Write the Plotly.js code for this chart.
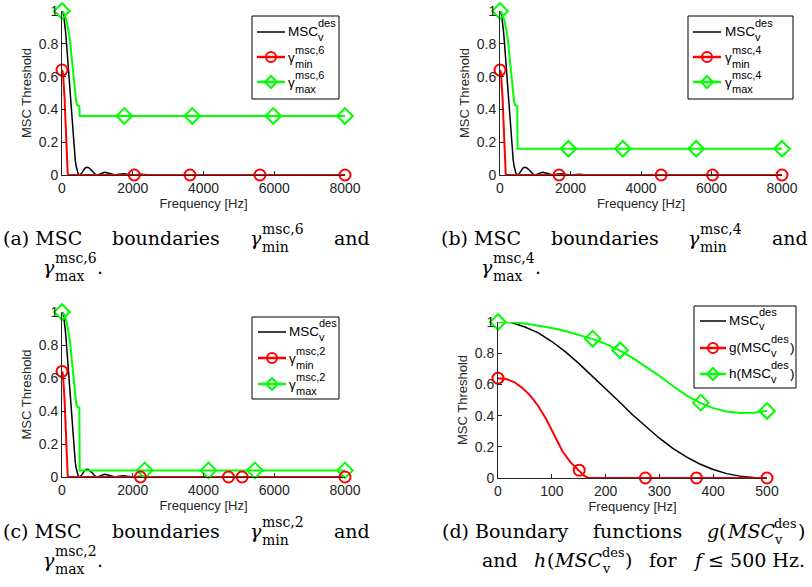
<!DOCTYPE html>
<html><head><meta charset="utf-8">
<script src="https://cdn.plot.ly/plotly-3.0.1.min.js"></script>
<style>html,body{margin:0;padding:0;background:#fff}#chart{width:812px;height:587px}</style>
</head><body><div id="chart"></div>
<script>
// ---- MSC_v^des (desired coherence), low band 0..500 Hz
var mscFreqLow = [0,25,50,75,100,125,150,175,200,225,250,275,300,325,350,375,400,425,450,475,500];
var mscLow     = [1.0,0.997,0.968,0.93,0.875,0.81,0.735,0.655,0.573,0.49,0.405,0.327,0.255,0.19,0.135,0.09,0.055,0.028,0.012,0.003,0.0];
// side lobes above 500 Hz
var mscFreqHigh = [550,600,650,700,750,800,850,900,950,1000,1100,1200,1300,1400,1500,1600,1750,1900,2000,2250,2500,2750,3000,8000];
var mscHigh     = [0.01,0.028,0.042,0.047,0.045,0.036,0.024,0.012,0.003,0,0.008,0.016,0.012,0.004,0,0.005,0.008,0.003,0,0.004,0,0.002,0,0];

// ---- g(MSC) lower boundary, 0..500 Hz
var gFreq = [0,15,30,45,60,75,90,105,120,135,150,160,168,500];
var gVal  = [0.64,0.634,0.615,0.578,0.528,0.46,0.375,0.27,0.17,0.1,0.045,0.015,0,0];
// ---- h(MSC) upper boundary, 0..500 Hz
var hFreq = [0,25,50,75,100,125,150,175,200,225,250,275,300,325,350,375,400,425,450,475,500];
var hVal  = [1.0,0.998,0.99,0.978,0.962,0.942,0.918,0.892,0.86,0.82,0.77,0.715,0.655,0.59,0.53,0.483,0.448,0.427,0.417,0.418,0.43];

// ---- full-band boundaries: tails above the low band
var fullEnd = 8000;
var maxStepFreq = [490, 500, 8000];
var maxLevel6 = 0.36, maxLevel4 = 0.16, maxLevel2 = 0.04;
var maxShoulder = 0.42;

// ---- marker positions
var redMark6X = [0,2044,3618,5597,8000],  redMark6Y = [0.64,0,0,0,0];
var grnMark6X = [0,1762,3684,5974,8000],  grnMark6Y = [1,0.36,0.36,0.36,0.36];
var redMark4X = [0,1676,4573,6031,8000],  redMark4Y = [0.64,0,0,0,0];
var grnMark4X = [0,1941,3484,5566,8000],  grnMark4Y = [1,0.16,0.16,0.16,0.16];
var redMark2X = [0,2218,4707,5093,8000],  redMark2Y = [0.64,0,0,0,0];
var grnMark2X = [0,2339,4141,5453,8000],  grnMark2Y = [1,0.04,0.04,0.04,0.04];
var redMarkDX = [0,151,274,369,500],      redMarkDY = [0.64,0.05,0,0,0];
var grnMarkDX = [0,176,227,377,500],      grnMarkDY = [1,0.893,0.819,0.483,0.43];

// ---- tick labels
var xTicksFull = [0,2000,4000,6000,8000];
var xTicksLow  = [0,100,200,300,400,500];
var yTicks     = [0,0.2,0.4,0.6,0.8,1];
var yTickText  = ['0','0.2','0.4','0.6','0.8','1'];

// ---------- build series
var mscFullX = mscFreqLow.concat(mscFreqHigh);
var mscFullY = mscLow.concat(mscHigh);
var gFullX = gFreq.slice(0, gFreq.length-1).concat([fullEnd]);
var gFullY = gVal.slice(0, gVal.length-1).concat([0]);
function hUpTo(fmax){ var xs=[],ys=[]; for(var i=0;i<hFreq.length;i++){ if(hFreq[i]<=fmax){xs.push(hFreq[i]);ys.push(hVal[i]);} } return [xs,ys]; }
function greenFull(level){
  var p = hUpTo(425);
  return [p[0].concat(maxStepFreq), p[1].concat([maxShoulder, level, level])];
}

var RED='#ff0000', GRN='#00ff00', BLK='#000000';
var traces=[];
function panel(ax, blackX, blackY, redX, redY, grnX, grnY, rmx, rmy, gmx, gmy){
  var xa='x'+(ax===1?'':ax), ya='y'+(ax===1?'':ax);
  traces.push({x:blackX,y:blackY,xaxis:xa,yaxis:ya,mode:'lines',line:{color:BLK,width:1.5},cliponaxis:false,hoverinfo:'skip'});
  traces.push({x:grnX,y:grnY,xaxis:xa,yaxis:ya,mode:'lines',line:{color:GRN,width:2},cliponaxis:false,hoverinfo:'skip'});
  traces.push({x:redX,y:redY,xaxis:xa,yaxis:ya,mode:'lines',line:{color:RED,width:2},cliponaxis:false,hoverinfo:'skip'});
  traces.push({x:gmx,y:gmy,xaxis:xa,yaxis:ya,mode:'markers',marker:{symbol:'diamond-open',size:12,color:GRN,line:{width:2,color:GRN}},cliponaxis:false,hoverinfo:'skip'});
  traces.push({x:rmx,y:rmy,xaxis:xa,yaxis:ya,mode:'markers',marker:{symbol:'circle-open',size:11,color:RED,line:{width:2,color:RED}},cliponaxis:false,hoverinfo:'skip'});
}
var g6=greenFull(maxLevel6), g4=greenFull(maxLevel4), g2=greenFull(maxLevel2);
panel(1, mscFullX,mscFullY,gFullX,gFullY,g6[0],g6[1],redMark6X,redMark6Y,grnMark6X,grnMark6Y);
panel(2, mscFullX,mscFullY,gFullX,gFullY,g4[0],g4[1],redMark4X,redMark4Y,grnMark4X,grnMark4Y);
panel(3, mscFullX,mscFullY,gFullX,gFullY,g2[0],g2[1],redMark2X,redMark2Y,grnMark2X,grnMark2Y);
panel(4, mscFreqLow,mscLow,gFreq,gVal,hFreq,hVal,redMarkDX,redMarkDY,grnMarkDX,grnMarkDY);

var W=812,H=587;
function px(x){return x/W;} function py(y){return 1-y/H;}
var AX='#262626';
var SANS='Liberation Sans, Arial, sans-serif';
function xaxis(dom, anchor, range, ticks){
  return {domain:dom, anchor:anchor, range:range, tickvals:ticks, ticktext:ticks.map(String), showline:true, linecolor:AX, linewidth:1,
    ticks:'inside', ticklen:4, tickcolor:AX, showgrid:false, zeroline:false, mirror:false,
    tickfont:{family:SANS, size:14, color:AX},
    title:{text:'Frequency [Hz]', font:{family:SANS, size:13, color:AX}, standoff:3}, automargin:false};
}
function yaxis(dom, anchor){
  return {domain:dom, anchor:anchor, range:[0,1], tickvals:yTicks, ticktext:yTickText, showline:true, linecolor:AX, linewidth:1,
    ticks:'inside', ticklen:4, tickcolor:AX, showgrid:false, zeroline:false, mirror:false,
    tickfont:{family:SANS, size:14, color:AX},
    title:{text:'MSC Threshold', font:{family:SANS, size:13, color:AX}, standoff:4}, automargin:false};
}

// ---------- text helpers
var cv=document.createElement('canvas').getContext('2d');
var SERIF_N='DejaVu Serif', SANS_N='Liberation Sans';
function measure(t,size,fam,it){cv.font=(it?'italic ':'')+size+'px "'+fam+'"';return cv.measureText(t).width;}
var ann=[], shapes=[];
function txt(t,x,base,size,fam,anchor,it,html){
  ann.push({text: html ? html : (it?'<i>'+t+'</i>':t), xref:'paper', yref:'paper', x:px(x), y:py(base-0.346*size),
    xanchor:anchor||'left', yanchor:'middle', showarrow:false, borderpad:0, borderwidth:0,
    font:{family:fam, size:size, color:'#000'}});
  return measure(t,size,fam,it);
}
function stack(x,sup,sub,supBase,subBase,size,fam){
  var a=txt(sup,x,supBase,size,fam), b=txt(sub,x,subBase,size,fam); return Math.max(a,b);
}

// ---------- captions (justified words built from pieces)
var CS=19;
function pieceW(p){
  if(p.sup!==undefined) return Math.max(measure(p.sup,p.s,SERIF_N), measure(p.sub,p.s,SERIF_N))+1;
  return measure(p.t,CS,SERIF_N,p.it);
}
function wordW(word){ var w=0; word.forEach(function(p){w+=pieceW(p);}); return w; }
function drawWord(word,x,base){
  word.forEach(function(p){
    if(p.sup!==undefined){ stack(x+0.5,p.sup,p.sub,base-p.up,base+p.dn,p.s,SERIF_N); }
    else txt(p.t,x,base,CS,SERIF_N,'left',p.it,p.html);
    x+=pieceW(p);
  });
}
function justify(words,x0,x1,base){
  var ws=words.map(wordW), sum=ws.reduce(function(a,b){return a+b;},0);
  var gap=(x1-x0-sum)/(words.length-1), x=x0;
  words.forEach(function(w,i){ drawWord(w,x,base); x+=ws[i]+gap; });
}
function gammaCaption(dx, dy, letter, n){
  var b1=245+dy, b2=274+dy;
  justify([[{t:'('+letter+') MSC'}],[{t:'boundaries'}],[{t:'γ',it:true},{sup:'msc,'+n,sub:'min',s:14,up:11,dn:7}],[{t:'and'}]], 3+dx, 370+dx, b1);
  drawWord([{t:'γ',it:true},{sup:'msc,'+n,sub:'max',s:14,up:11,dn:7},{t:'.'}], 43+dx, b2);
}
gammaCaption(0,0,'a','6');
gammaCaption(438,0,'b','4');
gammaCaption(0,293,'c','2');
var DV={sup:'des',sub:'v',s:13,up:10,dn:6};
justify([[{t:'(d) Boundary'}],[{t:'functions'}],[{t:'g',it:true},{t:'('},{t:'MSC',it:true},DV,{t:')'}]], 442, 805, 538);
justify([[{t:'and'}],[{t:'h',it:true},{t:'('},{t:'MSC',it:true},DV,{t:')'}],[{t:'for'}],[{t:'f ≤ 500 Hz.', html:'<i>f</i> ≤ 500 Hz.'}]], 482, 803, 567);

// ---------- legends (box, samples, labels)
function legendBox(x0,y0,x1,y1){
  shapes.push({type:'rect',xref:'paper',yref:'paper',x0:px(x0),x1:px(x1),y0:py(y1),y1:py(y0),line:{color:'#000',width:1},fillcolor:'rgba(255,255,255,0)'});
}
function sampleLine(xa,xb,y,color,width){
  shapes.push({type:'line',xref:'paper',yref:'paper',x0:px(xa),x1:px(xb),y0:py(y),y1:py(y),line:{color:color,width:width}});
}
function sampleCircle(cx,cy,color){
  shapes.push({type:'circle',xref:'paper',yref:'paper',xsizemode:'pixel',ysizemode:'pixel',xanchor:px(cx),yanchor:py(cy),x0:-5,x1:5,y0:-5,y1:5,line:{color:color,width:2},fillcolor:'rgba(0,0,0,0)'});
}
function sampleDiamond(cx,cy,color){
  shapes.push({type:'path',xref:'paper',yref:'paper',xsizemode:'pixel',ysizemode:'pixel',xanchor:px(cx),yanchor:py(cy),path:'M0,6L6,0L0,-6L-6,0Z',line:{color:color,width:2},fillcolor:'rgba(0,0,0,0)'});
}
function legend(box, rows, lx0, lx1, tx, mode, idx){
  legendBox(box[0],box[1],box[2],box[3]);
  var cx=(lx0+lx1)/2;
  sampleLine(lx0,lx1,rows[0],BLK,1.5);
  sampleLine(lx0,lx1,rows[1],RED,2.5); sampleCircle(cx,rows[1],RED);
  sampleLine(lx0,lx1,rows[2],GRN,2.5); sampleDiamond(cx,rows[2],GRN);
  var F=13.5, f=11, w;
  if(mode==='gamma'){
    w=txt('MSC', tx, rows[0]+4, F, SANS_N);
    stack(tx+w, 'des', 'v', rows[0]-5.5, rows[0]+8.5, f, SANS_N);
    w=txt('γ', tx, rows[1]+5, F, SANS_N);
    stack(tx+w, 'msc,'+idx, 'min', rows[1]-3, rows[1]+10.5, f, SANS_N);
    w=txt('γ', tx, rows[2]+5, F, SANS_N);
    stack(tx+w, 'msc,'+idx, 'max', rows[2]-3, rows[2]+10.5, f, SANS_N);
  } else {
    var pre=['', 'g(', 'h('];
    for(var i=0;i<3;i++){
      w=txt(pre[i]+'MSC', tx, rows[i]+4, F, SANS_N);
      var ws=stack(tx+w, 'des', 'v', rows[i]-5.5, rows[i]+8.5, f, SANS_N);
      if(i>0) txt(')', tx+w+ws+1, rows[i]+4, F, SANS_N);
    }
  }
}
legend([252,16,339,99],[32,57,82],257,285,288,'gamma','6');
legend([688,16,793,99],[32,57,82],693,721,725,'gamma','4');
legend([252,317,339,399],[332,358,384],258,286,289,'gamma','2');
legend([694,306,796,388],[321,348,374],700,726,729,'d','');

var layout={width:W,height:H,margin:{l:0,r:0,t:0,b:0},paper_bgcolor:'#fff',plot_bgcolor:'#fff',showlegend:false,
  xaxis:xaxis([px(62),px(345)],'y',[0,8000],xTicksFull),
  yaxis:yaxis([py(175),py(11)],'x'),
  xaxis2:xaxis([px(500),px(782)],'y2',[0,8000],xTicksFull),
  yaxis2:yaxis([py(175),py(11)],'x2'),
  xaxis3:xaxis([px(62),px(345)],'y3',[0,8000],xTicksFull),
  yaxis3:yaxis([py(477),py(312)],'x3'),
  xaxis4:xaxis([px(498),px(767)],'y4',[0,500],xTicksLow),
  yaxis4:yaxis([py(478),py(322)],'x4'),
  shapes:shapes, annotations:ann};
Plotly.newPlot('chart',traces,layout,{displayModeBar:false,staticPlot:true});
</script></body></html>
